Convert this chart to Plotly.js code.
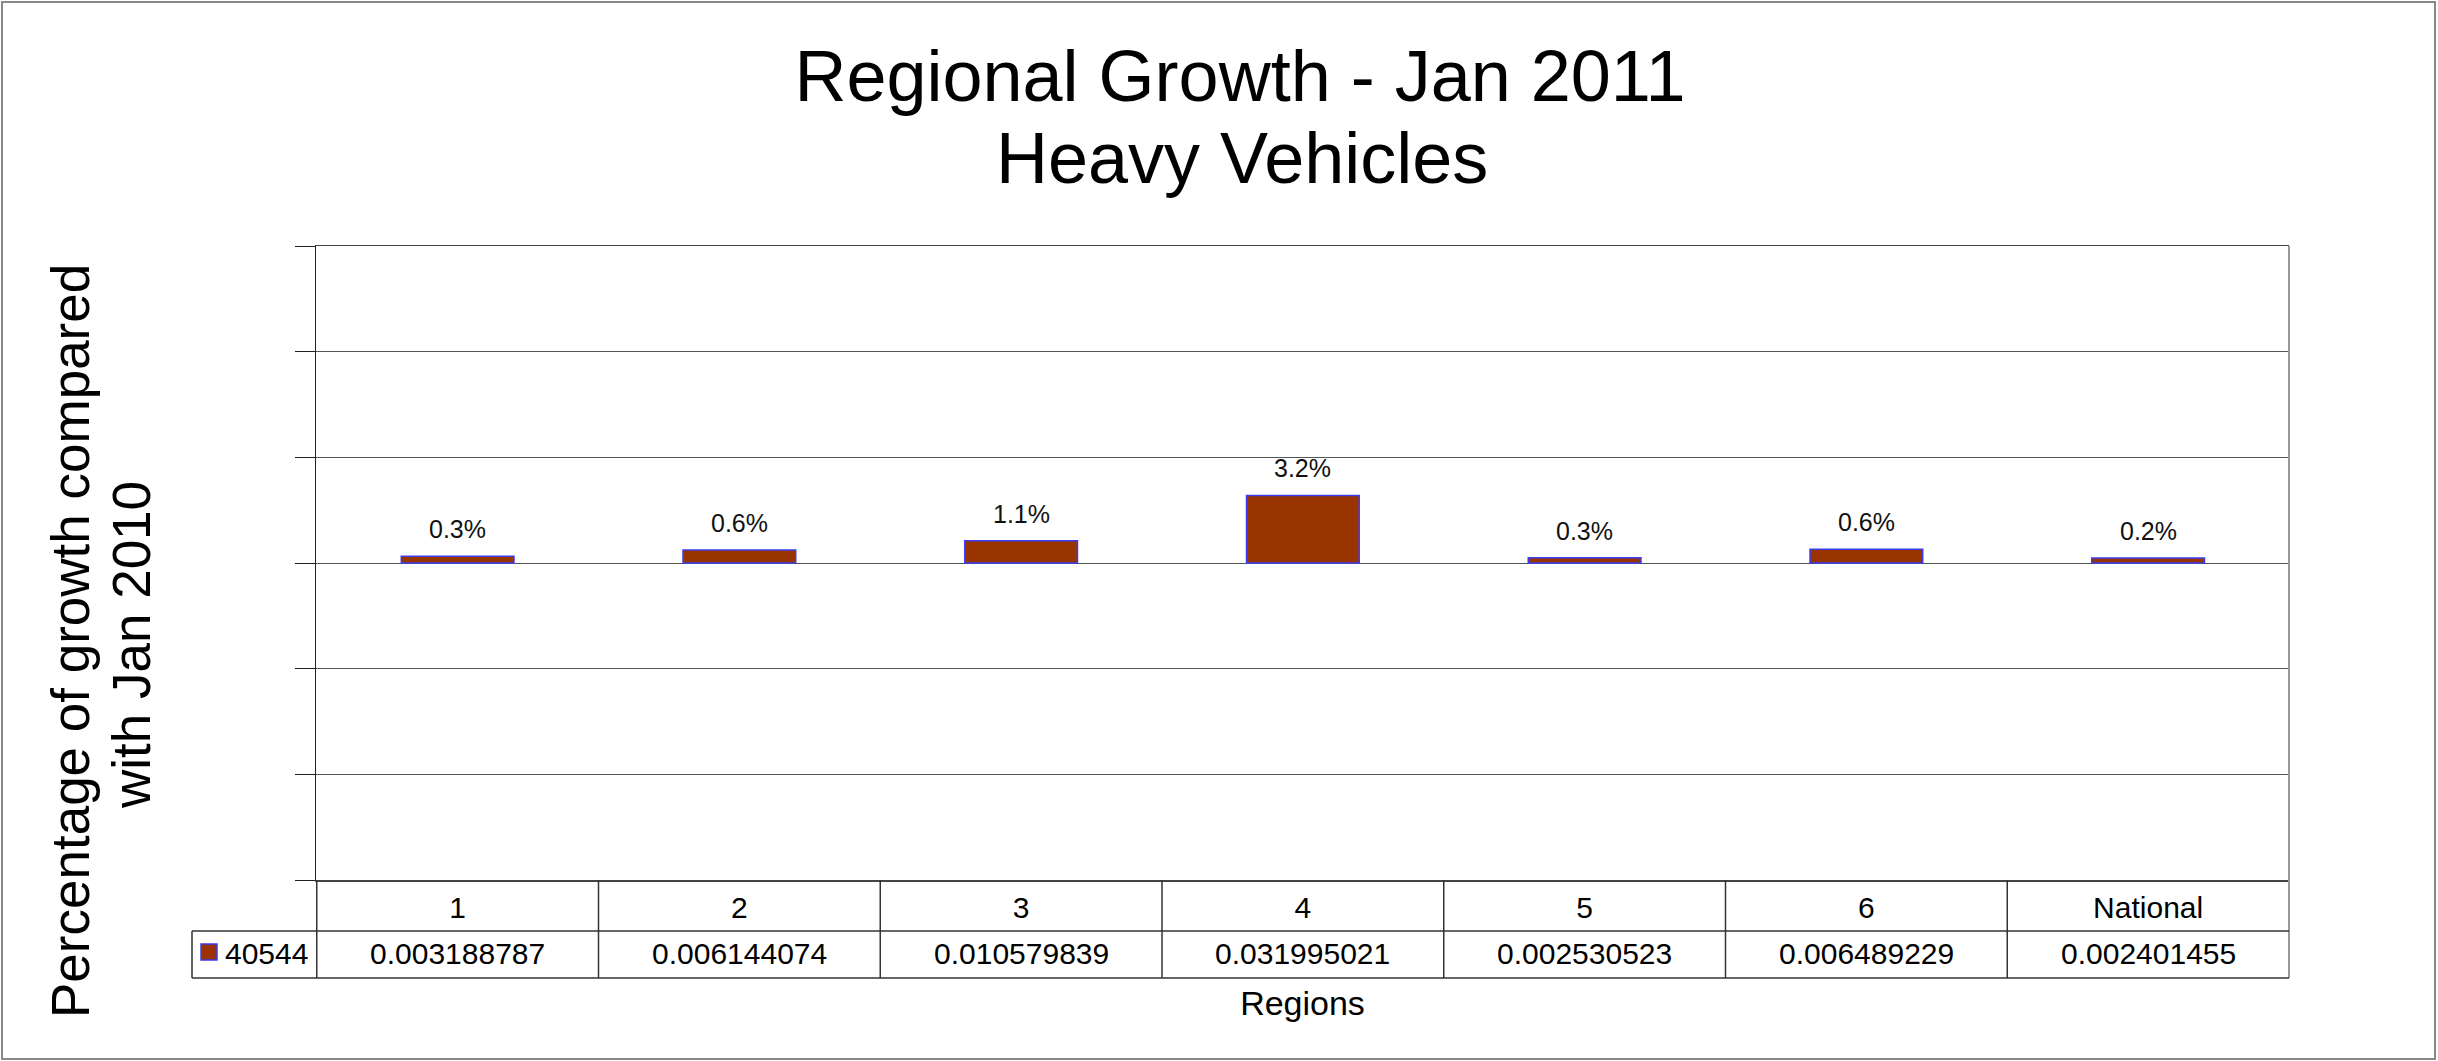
<!DOCTYPE html>
<html>
<head>
<meta charset="utf-8">
<script src="https://cdn.plot.ly/plotly-3.0.1.min.js"></script>
<style>
  html, body { margin: 0; padding: 0; background: #ffffff; }
  #chart { width: 2438px; height: 1061px; }
</style>
</head>
<body>
<div id="chart"></div>
<script>
// ---- Data ----
const categories = ['1', '2', '3', '4', '5', '6', 'National'];
const growthValues = [0.003188787, 0.006144074, 0.010579839, 0.031995021, 0.002530523, 0.006489229, 0.002401455];
const seriesName = '40544';
const chartTitle = 'Regional Growth - Jan 2011';
const chartSubtitle = 'Heavy Vehicles';
const yTitleLines = ['Percentage of growth compared', 'with Jan 2010'];
const xTitle = 'Regions';

// ---- Geometry helpers (plot area in pixels) ----
const W = 2438, H = 1061;
const L = 316, R = 2289, T = 246, B = 880;
const PW = R - L, PH = B - T;
const px = v => (v - L) / PW;      // pixel x -> paper x
const py = v => (B - v) / PH;      // pixel y -> paper y

const FONT = 'Liberation Sans, Arial, sans-serif';
const barColor = '#993300';
const barLine = '#3c3cf0';

const trace = {
  type: 'bar',
  x: categories,
  y: growthValues,
  name: seriesName,
  width: 0.4,
  marker: { color: barColor, line: { color: barLine, width: 1.5 } },
  hoverinfo: 'x+y',
  showlegend: false
};

const annotations = [];
// value labels above bars
categories.forEach((c, i) => {
  annotations.push({
    x: i, y: growthValues[i], xref: 'x', yref: 'y',
    text: (growthValues[i] * 100).toFixed(1) + '%',
    showarrow: false, yanchor: 'bottom', xanchor: 'center', yshift: 11,
    font: { family: FONT, size: 25, color: '#111' }
  });
});
// data-table value row
categories.forEach((c, i) => {
  annotations.push({
    x: i, y: py(953), xref: 'x', yref: 'paper',
    text: String(growthValues[i]),
    showarrow: false, yanchor: 'middle', xanchor: 'center',
    font: { family: FONT, size: 30, color: '#000' }
  });
});
// legend key label in the table
annotations.push({
  x: px(223), y: py(953), xref: 'paper', yref: 'paper',
  text: seriesName, showarrow: false, xanchor: 'left', yanchor: 'middle',
  font: { family: FONT, size: 30, color: '#000' }
});
// subtitle line
annotations.push({
  x: px(1242), y: py(158), xref: 'paper', yref: 'paper',
  text: chartSubtitle, showarrow: false, xanchor: 'center', yanchor: 'middle',
  font: { family: FONT, size: 72, color: '#000' }
});
// y title lines
annotations.push({
  x: px(70), y: py(641), xref: 'paper', yref: 'paper',
  text: yTitleLines[0], textangle: -90, showarrow: false,
  xanchor: 'center', yanchor: 'middle',
  font: { family: FONT, size: 53, color: '#000' }
});
annotations.push({
  x: px(131), y: py(645), xref: 'paper', yref: 'paper',
  text: yTitleLines[1], textangle: -90, showarrow: false,
  xanchor: 'center', yanchor: 'middle',
  font: { family: FONT, size: 53, color: '#000' }
});

const shapes = [];
const tableLine = { color: '#333333', width: 1.5 };
// vertical separators of the data table (category boundaries)
for (let i = 0; i < categories.length; i++) {
  shapes.push({
    type: 'line', xref: 'x', yref: 'paper',
    x0: i - 0.5, x1: i - 0.5, y0: 0, y1: py(978),
    line: tableLine
  });
}
// right edge of plot and table
shapes.push({ type: 'line', xref: 'paper', yref: 'paper', x0: 1, x1: 1, y0: 1, y1: py(978),
  line: { color: '#999999', width: 2 } });
// row separator & bottom of table
shapes.push({ type: 'line', xref: 'paper', yref: 'paper', x0: px(192), x1: 1, y0: py(931), y1: py(931), line: tableLine });
shapes.push({ type: 'line', xref: 'paper', yref: 'paper', x0: px(192), x1: 1, y0: py(978), y1: py(978), line: tableLine });
// left edge of legend cell
shapes.push({ type: 'line', xref: 'paper', yref: 'paper', x0: px(192), x1: px(192), y0: py(931), y1: py(978), line: tableLine });
// legend key swatch
shapes.push({ type: 'rect', xref: 'paper', yref: 'paper', x0: px(201), x1: px(217), y0: py(944), y1: py(960),
  fillcolor: barColor, line: { color: barLine, width: 1.5 } });
// outer chart border
shapes.push({ type: 'rect', xref: 'paper', yref: 'paper', x0: px(2), x1: px(2435), y0: py(2), y1: py(1059),
  line: { color: '#888888', width: 2 }, fillcolor: 'rgba(0,0,0,0)' });

const layout = {
  width: W, height: H,
  margin: { l: L, r: W - R, t: T, b: H - B, pad: 0 },
  paper_bgcolor: '#ffffff',
  plot_bgcolor: '#ffffff',
  font: { family: FONT, color: '#000' },
  title: {
    text: chartTitle,
    font: { family: FONT, size: 72, color: '#000' },
    xref: 'container', x: 1240 / W, xanchor: 'center',
    yref: 'container', y: 1 - 75.5 / H, yanchor: 'middle'
  },
  showlegend: false,
  xaxis: {
    type: 'category',
    showgrid: false,
    showline: true, linecolor: '#444444', linewidth: 1.5, mirror: true,
    ticks: '', ticklabelstandoff: 0,
    tickfont: { family: FONT, size: 30, color: '#000' },
    title: { text: xTitle, standoff: 68, font: { family: FONT, size: 34, color: '#000' } },
    fixedrange: true
  },
  yaxis: {
    range: [-0.15, 0.15], dtick: 0.05, tick0: 0,
    showgrid: true, gridcolor: '#555555', gridwidth: 1,
    zeroline: false,
    showline: true, linecolor: '#222222', linewidth: 1.5,
    ticks: 'outside', ticklen: 20, tickcolor: '#222222', tickwidth: 1,
    showticklabels: false,
    fixedrange: true
  },
  annotations: annotations,
  shapes: shapes,
  bargap: 0.6
};

Plotly.newPlot('chart', [trace], layout, { displayModeBar: false, staticPlot: true });
</script>
</body>
</html>
